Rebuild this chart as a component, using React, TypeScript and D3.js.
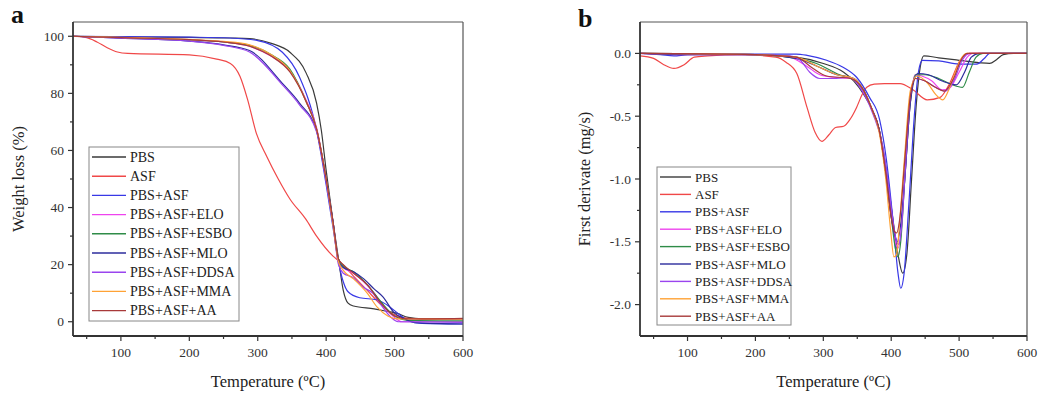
import React from "react";
import * as d3 from "d3";

type Pt = [number, number];

const seriesNames = ["PBS", "ASF", "PBS+ASF", "PBS+ASF+ELO", "PBS+ASF+ESBO", "PBS+ASF+MLO", "PBS+ASF+DDSA", "PBS+ASF+MMA", "PBS+ASF+AA"];
const seriesColors = ["#3a3a3a", "#f04848", "#3838e6", "#ee44ee", "#2f8c48", "#2c2c9c", "#9a44ee", "#ffa235", "#a83a3a"];

// ---------- Panel a: TGA weight (%) ----------
const tgPBS: Pt[] = [[30,100],[100,99.8],[200,99.6],[260,99.4],[288,99.2],[320,97.5],[347,94.4],[371,87],[386,76.6],[393,67],[400,53],[410,35],[418,22],[425,11],[432,6.5],[440,5.5],[470,4.5],[490,3.6],[503,3],[520,1.5],[540,1],[600,1]];
const tgASF: Pt[] = [[30,100],[50,99.5],[65,98],[80,96],[95,94.5],[110,94],[200,93.5],[240,92],[260,90.5],[274,86],[285,78],[298,66],[313,58],[330,50],[347,43],[370,36],[386,30],[410,23],[420,21],[440,16],[460,11],[480,6],[500,2.5],[520,1.2],[550,1],[600,1]];
const tgPBSASF: Pt[] = [[30,100],[200,99.7],[260,99.4],[300,98.5],[336,94.4],[361,85.7],[386,67],[400,48],[410,33],[418,21],[425,14],[432,10.5],[449,8.4],[474,7.7],[493,5.2],[507,2.5],[520,0.3],[540,-0.6],[600,-0.8]];
const tgELO: Pt[] = [[30,100],[100,99.5],[200,98.8],[250,98],[288,96.5],[320,93],[347,88],[371,77.5],[386,68],[400,50],[410,35],[418,22],[425,19],[440,17],[455,14],[470,10],[485,5],[500,1.5],[510,0],[600,0]];
const tgESBO: Pt[] = [[30,100],[100,99.5],[200,98.8],[250,98],[288,96.8],[320,93.5],[347,88.5],[371,77],[386,67.5],[400,50],[410,35],[418,22],[425,19.5],[440,17.5],[460,13],[480,7],[500,2],[520,0.5],[600,0.3]];
const tgMLO: Pt[] = [[30,100],[100,99.3],[200,98.3],[250,97],[288,95],[336,83.5],[361,76.6],[386,67],[400,50],[410,35],[418,21],[425,19],[440,17.5],[455,15],[470,11.5],[483,8.7],[500,3],[515,1],[530,-0.3],[600,-0.8]];
const tgDDSA: Pt[] = [[30,100],[100,99.3],[200,98.3],[250,96.8],[288,94.5],[336,83],[361,76],[386,66.5],[400,49],[410,34],[418,20],[425,17],[439,15.5],[455,12],[468,10],[480,6],[495,1.5],[505,0],[600,-0.2]];
const tgMMA: Pt[] = [[30,100],[100,99.6],[200,98.9],[250,98.2],[288,97],[320,93.5],[347,88],[371,77],[386,67.5],[400,50],[410,34],[418,21],[425,18],[440,15],[460,10],[475,5],[490,2],[505,1],[600,1]];
const tgAA: Pt[] = [[30,100],[100,99.5],[200,98.8],[250,98],[288,96.5],[320,93],[347,87.5],[371,77],[386,67.5],[400,50],[410,35],[418,22],[425,20],[440,17],[460,13],[480,6.5],[500,2],[520,1],[600,1.2]];
const tgSeries: Pt[][] = [tgPBS, tgASF, tgPBSASF, tgELO, tgESBO, tgMLO, tgDDSA, tgMMA, tgAA];

// ---------- Panel b: DTG (mg/s) ----------
const dtgPBS: Pt[] = [[30,0],[100,-0.005],[200,-0.01],[260,-0.03],[300,-0.08],[330,-0.15],[345,-0.22],[360,-0.33],[372,-0.45],[382,-0.6],[392,-0.9],[402,-1.3],[410,-1.6],[417,-1.75],[423,-1.6],[430,-1.0],[437,-0.4],[443,-0.1],[448,-0.02],[470,-0.035],[500,-0.055],[530,-0.075],[545,-0.08],[555,-0.05],[565,-0.01],[580,0],[600,0]];
const dtgASF: Pt[] = [[30,-0.02],[50,-0.04],[65,-0.09],[80,-0.12],[95,-0.09],[110,-0.03],[130,-0.02],[180,-0.01],[230,-0.03],[245,-0.07],[261,-0.16],[276,-0.43],[288,-0.63],[298,-0.7],[308,-0.65],[318,-0.59],[330,-0.58],[340,-0.52],[349,-0.43],[357,-0.33],[364,-0.27],[375,-0.245],[390,-0.24],[413,-0.24],[432,-0.29],[453,-0.37],[472,-0.35],[486,-0.24],[501,-0.06],[516,0],[600,0]];
const dtgPBSASF: Pt[] = [[30,0],[60,-0.01],[80,-0.02],[100,-0.01],[200,-0.005],[260,-0.005],[276,-0.015],[305,-0.055],[329,-0.11],[349,-0.19],[368,-0.35],[383,-0.53],[393,-0.85],[403,-1.35],[410,-1.75],[414,-1.87],[419,-1.75],[426,-1.2],[434,-0.5],[440,-0.15],[446,-0.055],[470,-0.06],[500,-0.085],[526,-0.085],[537,-0.04],[545,0],[600,0]];
const dtgELO: Pt[] = [[30,0],[100,-0.01],[200,-0.01],[250,-0.03],[275,-0.1],[295,-0.17],[315,-0.19],[340,-0.2],[355,-0.27],[370,-0.42],[382,-0.6],[392,-0.95],[400,-1.3],[406,-1.5],[410,-1.55],[414,-1.45],[420,-1.0],[428,-0.4],[435,-0.17],[445,-0.18],[460,-0.22],[475,-0.29],[485,-0.28],[500,-0.15],[512,-0.03],[520,0],[600,0]];
const dtgESBO: Pt[] = [[30,0],[200,-0.01],[260,-0.04],[290,-0.08],[324,-0.17],[345,-0.21],[360,-0.3],[372,-0.45],[382,-0.6],[392,-0.95],[400,-1.3],[406,-1.55],[410,-1.62],[414,-1.5],[420,-1.0],[428,-0.4],[436,-0.17],[450,-0.17],[470,-0.2],[490,-0.25],[505,-0.27],[515,-0.15],[525,-0.03],[535,0],[600,0]];
const dtgMLO: Pt[] = [[30,0],[100,-0.01],[200,-0.01],[260,-0.04],[290,-0.1],[320,-0.17],[345,-0.2],[360,-0.3],[372,-0.45],[382,-0.6],[392,-0.95],[400,-1.3],[406,-1.46],[409,-1.5],[413,-1.4],[420,-1.0],[428,-0.4],[439,-0.16],[455,-0.17],[475,-0.22],[496,-0.25],[508,-0.15],[518,-0.03],[530,0],[600,0]];
const dtgDDSA: Pt[] = [[30,0],[200,-0.01],[250,-0.02],[266,-0.055],[280,-0.15],[295,-0.2],[314,-0.2],[339,-0.19],[354,-0.27],[373,-0.48],[388,-0.75],[396,-1.05],[403,-1.35],[408,-1.5],[411,-1.52],[415,-1.4],[421,-0.9],[428,-0.35],[435,-0.2],[450,-0.22],[465,-0.27],[480,-0.3],[492,-0.22],[505,-0.05],[515,0],[600,0]];
const dtgMMA: Pt[] = [[30,0],[200,-0.01],[260,-0.03],[290,-0.1],[320,-0.17],[345,-0.2],[360,-0.3],[372,-0.45],[382,-0.62],[392,-1.0],[399,-1.4],[404,-1.62],[408,-1.6],[413,-1.3],[420,-0.8],[428,-0.3],[438,-0.18],[454,-0.24],[466,-0.33],[476,-0.37],[484,-0.3],[491,-0.2],[501,-0.06],[511,0],[600,0]];
const dtgAA: Pt[] = [[30,0],[200,-0.01],[260,-0.03],[285,-0.12],[305,-0.18],[340,-0.2],[358,-0.28],[372,-0.45],[382,-0.6],[392,-0.95],[400,-1.3],[405,-1.42],[408,-1.43],[413,-1.3],[420,-0.85],[428,-0.35],[436,-0.2],[450,-0.22],[465,-0.27],[478,-0.3],[492,-0.2],[503,-0.05],[512,0],[600,0]];
const dtgSeries: Pt[][] = [dtgPBS, dtgASF, dtgPBSASF, dtgELO, dtgESBO, dtgMLO, dtgDDSA, dtgMMA, dtgAA];

const xTicks = [100, 200, 300, 400, 500, 600];
const xMinor = [50, 150, 250, 350, 450, 550];
const yTicksA = [0, 20, 40, 60, 80, 100];
const yMinorA = [10, 30, 50, 70, 90];
const yTicksB = [0, -0.5, -1.0, -1.5, -2.0];
const yMinorB = [-0.25, -0.75, -1.25, -1.75];

const FONT = "'Liberation Serif', 'Times New Roman', serif";

interface PanelProps {
  left: number; top: number; right: number; bottom: number;
  yDomain: [number, number];
  yTicks: number[]; yMinor: number[]; yFmt: (v: number) => string;
  data: Pt[][];
  letter: string; letterX: number; letterY: number;
  yTitle: string; yTitleX: number;
  legend: { x: number; y: number; w: number; h: number; row: number; first: number; lineLen: number; fs: number };
}

function Panel(p: PanelProps) {
  const x = d3.scaleLinear().domain([30, 600]).range([p.left, p.right]);
  const y = d3.scaleLinear().domain(p.yDomain).range([p.bottom, p.top]);
  const line = d3.line<Pt>().x(d => x(d[0])).y(d => y(d[1])).curve(d3.curveMonotoneX);
  const axisColor = "#333";
  const L = p.legend;
  return (
    <g>
      <text x={p.letterX} y={p.letterY} fontFamily={FONT} fontWeight="bold" fontSize={26} fill="#111">{p.letter}</text>
      <defs>
        <clipPath id={"clip" + p.letter}>
          <rect x={p.left} y={p.top} width={p.right - p.left} height={p.bottom - p.top} />
        </clipPath>
      </defs>
      <g clipPath={`url(#clip${p.letter})`}>
        {p.data.map((s, i) => (
          <path key={i} d={line(s) || ""} fill="none" stroke={seriesColors[i]} strokeWidth={1.2} />
        ))}
      </g>
      {/* frame */}
      <line x1={p.left} x2={p.right} y1={p.top} y2={p.top} stroke="#555" strokeWidth={1} />
      <line x1={p.right} x2={p.right} y1={p.top} y2={p.bottom} stroke="#555" strokeWidth={1.2} />
      <line x1={p.left} x2={p.right} y1={p.bottom} y2={p.bottom} stroke={axisColor} strokeWidth={1.8} />
      <line x1={p.left} x2={p.left} y1={p.top} y2={p.bottom} stroke={axisColor} strokeWidth={1.8} />
      {xTicks.map(t => (
        <g key={"xt" + t}>
          <line x1={x(t)} x2={x(t)} y1={p.bottom} y2={p.bottom + 5} stroke={axisColor} strokeWidth={1.2} />
          <text x={x(t)} y={p.bottom + 21} textAnchor="middle" fontFamily={FONT} fontSize={13.5} fill="#333">{t}</text>
        </g>
      ))}
      {xMinor.map(t => (
        <line key={"xm" + t} x1={x(t)} x2={x(t)} y1={p.bottom} y2={p.bottom + 3} stroke={axisColor} strokeWidth={1.2} />
      ))}
      {p.yTicks.map(t => (
        <g key={"yt" + t}>
          <line x1={p.left - 5} x2={p.left} y1={y(t)} y2={y(t)} stroke={axisColor} strokeWidth={1.2} />
          <text x={p.left - 9} y={y(t) + 4.5} textAnchor="end" fontFamily={FONT} fontSize={13.5} fill="#333">{p.yFmt(t)}</text>
        </g>
      ))}
      {p.yMinor.map(t => (
        <line key={"ym" + t} x1={p.left - 3} x2={p.left} y1={y(t)} y2={y(t)} stroke={axisColor} strokeWidth={1.2} />
      ))}
      <text x={(p.left + p.right) / 2} y={387} textAnchor="middle" fontFamily={FONT} fontSize={16.5} fill="#222">Temperature (ºC)</text>
      <text transform={`translate(${p.yTitleX},${(p.top + p.bottom) / 2}) rotate(-90)`} textAnchor="middle" fontFamily={FONT} fontSize={16.5} fill="#222">{p.yTitle}</text>
      {/* legend */}
      <rect x={L.x} y={L.y} width={L.w} height={L.h} fill="#fff" stroke="#888" strokeWidth={1} />
      {seriesNames.map((n, i) => {
        const cy = L.first + i * L.row;
        return (
          <g key={n}>
            <line x1={L.x + 3} x2={L.x + 3 + L.lineLen} y1={cy} y2={cy} stroke={seriesColors[i]} strokeWidth={1.4} />
            <text x={L.x + 3 + L.lineLen + 4} y={cy + 4.5} fontFamily={FONT} fontSize={L.fs} fill="#222">{n}</text>
          </g>
        );
      })}
    </g>
  );
}

export default function App() {
  return (
    <svg width={1048} height={397} style={{ position: "absolute", left: 0, top: 0, display: "block", background: "#fff" }}>
      <Panel left={73} top={22} right={463} bottom={336} yDomain={[-5, 105]}
        yTicks={yTicksA} yMinor={yMinorA} yFmt={v => String(v)} data={tgSeries}
        letter="a" letterX={11} letterY={23} yTitle="Weight loss (%)" yTitleX={24}
        legend={{ x: 89, y: 147, w: 150, h: 174, row: 19.2, first: 157, lineLen: 34, fs: 14 }} />
      <Panel left={640} top={22} right={1027} bottom={336} yDomain={[-2.25, 0.25]}
        yTicks={yTicksB} yMinor={yMinorB} yFmt={v => d3.format(".1f")(v).replace("−", "-")} data={dtgSeries}
        letter="b" letterX={578} letterY={27} yTitle="First derivate (mg/s)" yTitleX={590}
        legend={{ x: 657, y: 167, w: 134, h: 158, row: 17.4, first: 177, lineLen: 31, fs: 13 }} />
    </svg>
  );
}
